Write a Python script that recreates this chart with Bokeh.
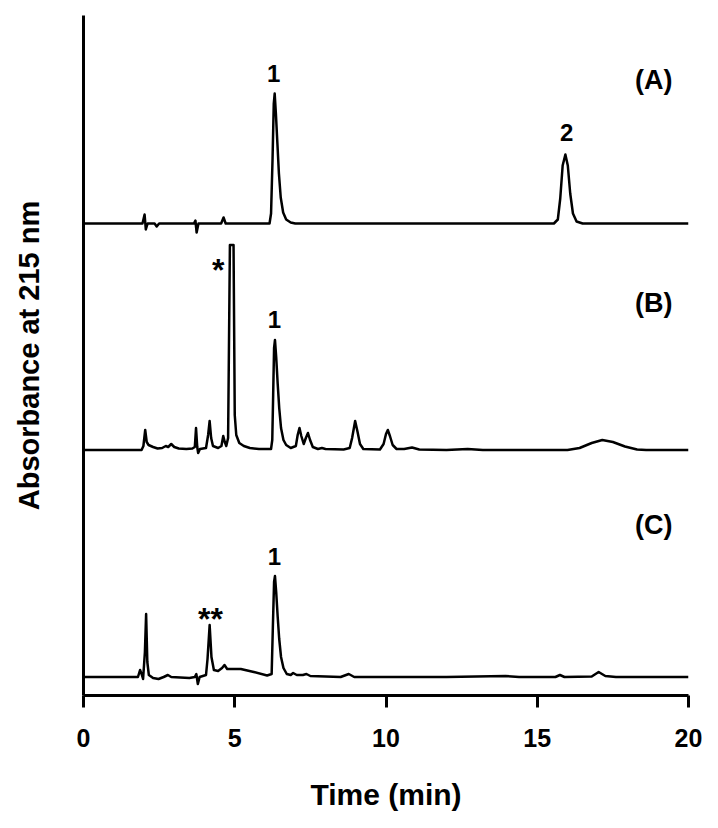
from bokeh.plotting import figure
from bokeh.models import Range1d, FixedTicker, ColumnDataSource
from bokeh.core.properties import value
from bokeh.embed import file_html
from bokeh.resources import INLINE

# ---------------- data ----------------
x_ticks = [0, 5, 10, 15, 20]

# baseline offsets of the stacked traces (absorbance units)
offset_a = 47.2
offset_b = 24.55
offset_c = 1.85

# trace (A)
a_time = [0.0, 1.95, 2.02, 2.06, 2.12, 2.35, 2.42, 2.5, 3.65, 3.70, 3.74, 3.80, 4.55, 4.63, 4.70,
          6.15, 6.20, 6.25, 6.29, 6.32, 6.36, 6.41, 6.46, 6.52, 6.60, 6.70, 6.85, 7.0,
          15.55, 15.68, 15.76, 15.84, 15.93, 16.01, 16.09, 16.18, 16.30, 16.50, 20.0]
a_signal = [0, 0, 0.9, -0.6, 0, 0, -0.3, 0, 0, 0.3, -0.9, 0, 0, 0.6, 0,
            0, 1.0, 6.5, 12.0, 13.0, 11.0, 8.0, 5.0, 2.6, 1.1, 0.4, 0.1, 0,
            0, 0.4, 2.5, 5.8, 6.9, 5.8, 3.0, 1.0, 0.2, 0, 0]

# trace (B)
b_time = [0.0, 1.92, 1.98, 2.04, 2.09, 2.15, 2.3, 2.45, 2.6, 2.72, 2.8, 2.9, 3.0, 3.15, 3.4, 3.6,
          3.68, 3.72, 3.76, 3.79, 3.85, 4.05, 4.12, 4.17, 4.22, 4.28, 4.45, 4.56, 4.62, 4.67,
          4.72, 4.78, 4.84, 4.96, 5.00, 5.05, 5.15, 5.3, 5.5, 5.8, 6.2,
          6.24, 6.27, 6.30, 6.33, 6.37, 6.42, 6.47, 6.53, 6.61, 6.70, 6.85,
          7.02, 7.08, 7.14, 7.20, 7.28, 7.35, 7.42, 7.49, 7.58, 7.75, 7.88, 8.0,
          8.6, 8.8, 8.88, 8.98, 9.06, 9.14, 9.25, 9.8, 9.92, 10.0, 10.06, 10.13, 10.22, 10.35,
          10.6, 10.86, 11.1, 12.0, 12.7, 13.2, 16.0, 16.4, 16.8, 17.15, 17.5, 17.9, 18.3, 18.6, 20.0]
b_signal = [0, 0, 0.4, 2.0, 0.8, 0.5, 0.3, 0.15, 0.2, 0.4, 0.3, 0.6, 0.3, 0.15, 0.1, 0.15,
            0.3, 2.2, 0.3, -0.3, 0.1, 0.2, 1.5, 2.9, 1.2, 0.4, 0.2, 0.4, 1.4, 0.8,
            0.4, 1.2, 20.5, 20.5, 3.5, 1.5, 0.7, 0.4, 0.2, 0.1, 0.1,
            1.0, 5.5, 10.2, 11.0, 9.3, 6.6, 4.2, 2.2, 1.0, 0.5, 0.2,
            0.4, 1.5, 2.2, 1.4, 0.6, 1.2, 1.7, 1.0, 0.3, 0.1, 0.2, 0.1,
            0.05, 0.2, 1.2, 2.9, 1.8, 0.6, 0.1, 0.05, 0.6, 1.6, 2.0, 1.4, 0.5, 0.1,
            0.1, 0.25, 0.05, 0.0, 0.1, 0.0, 0.0, 0.2, 0.7, 1.0, 0.8, 0.35, 0.05, 0.0, 0.0]

# trace (C)
c_time = [0.0, 1.80, 1.87, 1.92, 1.97, 2.03, 2.07, 2.11, 2.16, 2.3, 2.48, 2.65, 2.79, 2.9, 3.5,
          3.68, 3.73, 3.78, 3.84, 4.05, 4.10, 4.17, 4.23, 4.31, 4.45, 4.58, 4.66, 4.75, 5.2,
          5.63, 6.07, 6.22, 6.26, 6.30, 6.33, 6.37, 6.42, 6.47, 6.53, 6.61, 6.72, 6.85, 6.93,
          7.05, 7.25, 7.37, 7.5, 8.5, 8.77, 8.95, 12.0, 13.95, 14.4, 15.6, 15.75, 15.9, 16.8,
          17.03, 17.25, 17.6, 20.0]
c_signal = [0, 0, 0.7, 0.3, -0.2, 2.5, 6.3, 1.5, 0.2, -0.1, -0.2, 0, 0.2, 0, -0.1,
            0, 0.3, -0.7, 0, 0.2, 1.8, 5.2, 2.0, 0.7, 0.6, 0.9, 1.2, 0.8, 0.8,
            0.5, 0.15, 0.3, 5.0, 9.5, 10.1, 8.5, 6.0, 3.8, 2.0, 0.9, 0.3, 0.2, 0.4,
            0.2, 0.2, 0.3, 0.1, 0, 0.3, 0, 0, 0.1, 0, 0, 0.2, 0, 0.05,
            0.5, 0.1, 0, 0]

# peak annotations
peak_text = ["1", "2", "1", "1"]
peak_time = [6.29, 15.97, 6.31, 6.31]
peak_level = [62.2, 56.3, 37.6, 13.9]

star_text = ["*", "**"]
star_time = [4.45, 4.2]
star_level = [42.6, 7.7]

panel_text = ["(A)", "(B)", "(C)"]
panel_time = [18.85, 18.85, 18.85]
panel_level = [61.6, 39.3, 17.1]

# ---------------- figure ----------------
FONT = "Liberation Sans"

p = figure(width=708, height=818, output_backend="svg", toolbar_location=None,
           x_range=Range1d(0, 20), y_range=Range1d(0, 68),
           min_border_left=83, min_border_right=20, min_border_top=15, min_border_bottom=123)
p.outline_line_color = None
p.xgrid.visible = False
p.ygrid.visible = False
p.background_fill_color = "white"

for t, s, off in [(a_time, a_signal, offset_a), (b_time, b_signal, offset_b), (c_time, c_signal, offset_c)]:
    src = ColumnDataSource(dict(t=t, y=[v + off for v in s]))
    p.line("t", "y", source=src, line_color="black", line_width=2.5, line_join="round")

for txt, xs, ys, size in [(peak_text, peak_time, peak_level, "24px"),
                          (star_text, star_time, star_level, "32px"),
                          (panel_text, panel_time, panel_level, "27px")]:
    src = ColumnDataSource(dict(x=xs, y=ys, text=txt))
    p.text("x", "y", text="text", source=src, text_font=value(FONT), text_font_style="bold",
           text_font_size=size, text_align="center", text_baseline="alphabetic", text_color="black")

# x axis
xa = p.xaxis[0]
xa.ticker = FixedTicker(ticks=x_ticks)
xa.axis_line_width = 3
xa.axis_line_color = "black"
xa.major_tick_line_width = 3
xa.major_tick_in = 0
xa.major_tick_out = 12
xa.minor_tick_line_color = None
xa.major_label_text_font = FONT
xa.major_label_text_font_style = "bold"
xa.major_label_text_font_size = "25px"
xa.major_label_text_color = "black"
xa.major_label_standoff = 21
xa.axis_label = "Time (min)"
xa.axis_label_text_font = FONT
xa.axis_label_text_font_style = "bold"
xa.axis_label_text_font_size = "30px"
xa.axis_label_text_color = "black"
xa.axis_label_standoff = 28

# y axis
ya = p.yaxis[0]
ya.ticker = FixedTicker(ticks=[])
ya.axis_line_width = 3
ya.axis_line_color = "black"
ya.major_tick_out = 0
ya.major_tick_in = 0
ya.minor_tick_line_color = None
ya.major_label_text_font_size = "0px"
ya.major_label_standoff = 0
ya.axis_label = "Absorbance at 215 nm"
ya.axis_label_text_font = FONT
ya.axis_label_text_font_style = "bold"
ya.axis_label_text_font_size = "29px"
ya.axis_label_text_color = "black"
ya.axis_label_standoff = 39

open("out.html", "w").write(file_html(p, INLINE))
